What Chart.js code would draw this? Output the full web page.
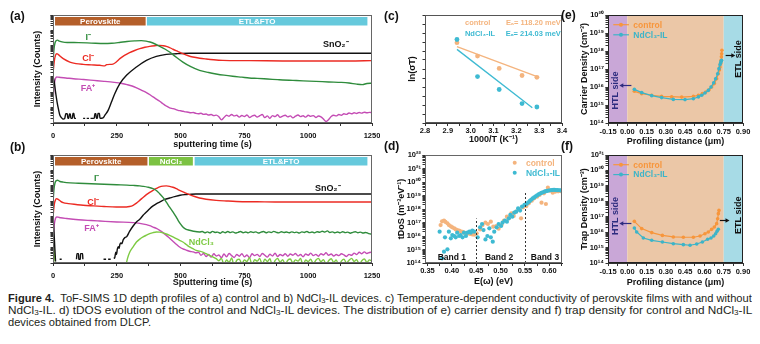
<!DOCTYPE html>
<html lang="en">
<head>
<meta charset="utf-8">
<title>Figure 4</title>
<script src="https://cdn.jsdelivr.net/npm/chart.js@4.4.1/dist/chart.umd.min.js"></script>
<style>
  html, body { margin: 0; padding: 0; background: #fff; }
  body { position: relative; width: 760px; height: 344px; overflow: hidden; font-family: "Liberation Sans", Arial, sans-serif; }
  .panel { position: absolute; }
  .tag { position: absolute; font-weight: bold; font-size: 12px; color: #111; }
  .caption { position: absolute; left: 8px; top: 292px; width: 744px; font-size: 11px; line-height: 12px; color: #231f20; }
  .caption span { display: inline-block; white-space: nowrap; transform-origin: 0 0; }
  .caption sub { font-size: 7.5px; vertical-align: -1px; line-height: 0; }
</style>
</head>
<body>
<div class="panel" style="left:0;top:0;width:380px;height:150px"><canvas id="chartA"></canvas></div>
<div class="panel" style="left:0;top:148px;width:380px;height:142px"><canvas id="chartB"></canvas></div>
<div class="panel" style="left:380px;top:0;width:190px;height:150px"><canvas id="chartC"></canvas></div>
<div class="panel" style="left:380px;top:148px;width:190px;height:142px"><canvas id="chartD"></canvas></div>
<div class="panel" style="left:570px;top:0;width:190px;height:150px"><canvas id="chartE"></canvas></div>
<div class="panel" style="left:570px;top:148px;width:190px;height:142px"><canvas id="chartF"></canvas></div>

<div class="tag" style="left:10px;top:9px">(a)</div>
<div class="tag" style="left:10px;top:140px">(b)</div>
<div class="tag" style="left:384px;top:9px">(c)</div>
<div class="tag" style="left:384px;top:139px">(d)</div>
<div class="tag" style="left:561px;top:8px">(e)</div>
<div class="tag" style="left:561px;top:139px">(f)</div>

<div class="caption">
  <div><span id="cap1"><b>Figure 4.</b>&nbsp; ToF-SIMS 1D depth profiles of a) control and b) NdCl<sub>3</sub>-IL devices. c) Temperature-dependent conductivity of perovskite films with and without</span></div>
  <div><span id="cap2">NdCl<sub>3</sub>-IL. d) tDOS evolution of the control and NdCl<sub>3</sub>-IL devices. The distribution of e) carrier density and f) trap density for control and NdCl<sub>3</sub>-IL</span></div>
  <div><span id="cap3">devices obtained from DLCP.</span></div>
</div>

<script>
// ToF-SIMS depth profiles, [sputtering time (s), log10 counts]
// (a) control device
const iControl = [[0,3.9],[4,4.8],[8,5.2],[13,5.34],[18,5.37],[25,5.3],[40,5.24],[60,5.22],[100,5.21],[150,5.18],[200,5.15],[230,5.17],[260,5.22],[290,5.28],[320,5.32],[346,5.34],[365,5.31],[380,5.25],[400,5.12],[418,4.97],[440,4.78],[457,4.6],[480,4.3],[509,3.95],[540,3.65],[574,3.41],[610,3.27],[639,3.18],[670,3.1],[704,3.03],[740,2.97],[769,2.92],[800,2.89],[840,2.85],[880,2.81],[900,2.79],[940,2.76],[980,2.73],[1030,2.7],[1080,2.66],[1130,2.63],[1160,2.59],[1190,2.52],[1212,2.49],[1230,2.56],[1250,2.58]];
const clControl = [[0,3.2],[5,4.0],[10,4.4],[15,4.49],[20,4.45],[30,4.3],[40,4.17],[66,3.95],[90,3.85],[118,3.8],[150,3.77],[183,3.74],[203,3.7],[210,3.78],[235,3.82],[248,3.95],[262,4.17],[280,4.38],[300,4.56],[320,4.7],[340,4.82],[360,4.91],[379,4.97],[400,5.01],[418,5.03],[432,5.01],[444,4.97],[457,4.89],[470,4.78],[490,4.63],[509,4.49],[530,4.36],[548,4.28],[575,4.2],[600,4.15],[630,4.1],[665,4.06],[720,4.04],[770,4.04],[900,4.02],[1030,4.02],[1160,4.02],[1250,4.04]];
const snoControl = [[0,3.0],[5,2.66],[10,2.01],[16,1.36],[21,0.93],[27,0.5],[34,0.33],[40,0.25],[46,0.3],[50,0.6],[56,0.6],[58,0.3],[62,0.3],[64,0.58],[68,0.58],[70,0.3],[76,0.3],[78,0.62],[82,0.62],[84,0.3],[90,0.3],[91,null],[117,null],[118,0.3],[126,0.3],[127,null],[131,null],[132,0.3],[141,0.3],[142,null],[146,null],[147,0.3],[158,0.3],[162,0.32],[164,0.6],[168,0.6],[170,0.3],[174,0.3],[176,0.62],[182,0.62],[184,0.3],[196,0.33],[203,0.5],[216,0.82],[229,1.36],[242,1.9],[262,2.55],[288,3.09],[327,3.63],[366,4.06],[405,4.32],[444,4.45],[483,4.49],[535,4.52],[1250,4.52]];
const faControl = [[0,1.45],[5,2.5],[10,2.9],[15,2.98],[20,2.97],[30,2.95],[50,2.92],[80,2.87],[120,2.82],[160,2.76],[200,2.7],[240,2.63],[270,2.56],[290,2.49],[310,2.4],[330,2.26],[350,2.1],[366,1.97],[380,1.83],[392,1.69],[405,1.55],[418,1.41],[431,1.25],[444,1.1],[457,0.98],[470,0.93],[480,0.88],[490,0.82],[500,0.79],[510,0.76],
  [520,0.72],[530,0.7],[540,0.66],[550,0.68],[560,0.62],[570,0.6],[580,0.63],[590,0.56],[600,0.58],[610,0.52],[620,0.55],[630,0.48],[640,0.51],[650,0.4],[660,0.2],[670,0.35],[680,0.5],[690,0.44],[700,0.55],[710,0.46],[720,0.5],[730,0.38],[740,0.49],[750,0.42],[760,0.52],[770,0.36],[780,0.45],[790,0.5],[800,0.39],[810,0.47],[820,0.55],[830,0.35],[840,0.46],[850,0.3],[860,0.48],[870,0.41],[880,0.53],[890,0.37],[900,0.45],[910,0.5],[920,0.4],[930,0.46],[940,0.33],[950,0.44],[960,0.52],[970,0.41],[980,0.47],[990,0.38],[1000,0.5],[1010,0.43],[1020,0.48],[1030,0.36],[1040,0.45],[1050,0.4],[1060,0.25],[1070,0.1],[1080,0.22],[1090,0.42],[1100,0.5],[1110,0.46],[1120,0.55],[1130,0.5],[1140,0.6],[1150,0.56],[1160,0.65],[1170,0.6],[1180,0.66],[1190,0.62],[1200,0.68],[1210,0.64],[1220,0.7],[1230,0.66],[1240,0.69],[1250,0.67]];

// (b) NdCl3-IL device
const iNd = [[0,3.9],[4,4.8],[8,5.2],[13,5.34],[18,5.36],[25,5.3],[40,5.24],[53,5.21],[100,5.17],[150,5.14],[200,5.1],[250,5.07],[290,5.05],[314,5.03],[340,5.0],[353,4.97],[370,4.92],[392,4.82],[405,4.7],[418,4.49],[431,4.25],[444,3.95],[457,3.62],[470,3.31],[480,3.05],[490,2.77],[500,2.52],[509,2.33],[520,2.2],[535,2.12],[550,2.06],[574,2.01],
  [585,2.04],[595,1.96],[605,2.02],[615,1.95],[625,2.05],[635,1.98],[645,2.0],[655,1.93],[665,2.03],[675,1.96],[685,2.04],[695,1.97],[705,2.02],[715,1.94],[725,1.99],[735,2.04],[745,1.96],[755,2.01],[765,1.95],[775,2.03],[785,1.98],[795,2.02],[805,1.94],[815,2.0],[825,2.04],[835,1.96],[845,2.02],[855,1.97],[865,2.05],[875,1.99],[885,1.95],[895,2.03],[905,1.98],[915,2.01],[925,1.96],[935,2.02],[945,1.97],[955,2.0],[965,1.94],[975,2.02],[985,1.98],[995,2.04],[1005,1.97],[1015,2.01],[1025,1.95],[1035,2.03],[1045,1.99],[1055,2.06],[1065,2.0],[1075,2.08],[1085,1.98],[1095,2.02],[1105,1.96],[1115,2.01],[1125,1.95],[1135,2.03],[1145,1.97],[1155,2.0],[1165,1.93],[1175,1.99],[1185,2.03],[1195,1.96],[1205,2.0],[1215,1.94],[1225,1.98],[1235,1.92],[1245,1.88],[1250,1.9]];
const clNd = [[0,3.0],[5,3.8],[10,4.1],[15,4.17],[20,4.12],[30,4.0],[40,3.91],[60,3.85],[90,3.79],[118,3.74],[160,3.7],[200,3.66],[248,3.63],[288,3.63],[300,3.66],[314,3.74],[327,3.88],[340,4.06],[353,4.25],[366,4.43],[379,4.58],[392,4.71],[405,4.83],[418,4.93],[431,4.98],[444,5.0],[457,4.97],[470,4.91],[483,4.82],[496,4.71],[515,4.57],[535,4.43],[555,4.31],[574,4.21],[600,4.13],[639,4.06],[680,4.02],[718,3.99],[800,3.97],[900,3.95],[1250,3.95]];
const snoNd = [[0,3.0],[4,2.0],[7,1.0],[10,0.1],[11,null],[25,null],[26,0.24],[34,0.24],[35,null],[90,null],[92,0.24],[94,0.61],[100,0.61],[101,0.24],[107,0.24],[108,0.61],[116,0.61],[117,0.24],[118,null],[196,null],[198,0.24],[208,0.24],[209,null],[214,null],[216,0.24],[226,0.24],[227,null],[236,null],[238,0.3],[242,0.35],[246,0.7],[249,0.55],[252,0.9],[256,1.06],[259,0.95],[262,1.2],[266,1.3],[270,1.25],[275,1.5],[282,1.65],[289,1.71],[300,2.05],[314,2.4],[327,2.66],[341,2.85],[353,3.09],[366,3.3],[379,3.52],[392,3.7],[406,3.85],[418,3.95],[438,4.12],[457,4.21],[476,4.3],[498,4.39],[517,4.43],[535,4.45],[560,4.47],[1250,4.47]];
const faNd = [[0,1.5],[5,2.5],[10,2.9],[15,2.98],[20,2.97],[30,2.93],[53,2.88],[100,2.8],[150,2.75],[183,2.72],[250,2.66],[314,2.62],[340,2.57],[366,2.49],[379,2.42],[392,2.33],[405,2.24],[418,2.12],[431,1.97],[444,1.79],[457,1.6],[470,1.41],[483,1.22],[496,1.04],[509,0.92],[522,0.84],[535,0.76],[550,0.72],
  [560,0.66],[570,0.7],[580,0.5],[590,0.62],[600,0.42],[610,0.55],[620,0.38],[630,0.6],[640,0.45],[650,0.52],[660,0.35],[670,0.58],[680,0.4],[690,0.62],[700,0.48],[710,0.36],[720,0.55],[730,0.44],[740,0.6],[750,0.4],[760,0.52],[770,0.35],[780,0.6],[790,0.48],[800,0.56],[810,0.42],[820,0.62],[830,0.5],[840,0.38],[850,0.57],[860,0.45],[870,0.63],[880,0.42],[890,0.55],[900,0.47],[910,0.6],[920,0.44],[930,0.58],[940,0.5],[950,0.62],[960,0.46],[970,0.55],[980,0.4],[990,0.58],[1000,0.5],[1010,0.64],[1020,0.48],[1030,0.56],[1040,0.44],[1050,0.6],[1060,0.52],[1070,0.66],[1080,0.5],[1090,0.58],[1100,0.45],[1110,0.55],[1120,0.48],[1130,0.6],[1140,0.52],[1150,0.42],[1160,0.56],[1170,0.5],[1180,0.64],[1190,0.55],[1200,0.7],[1210,0.6],[1220,0.72],[1230,0.62],[1240,0.68],[1250,0.7]];
const ndclNd = [[0,1.5],[4,0.8],[8,0.1],[9,null],[280,null],[285,-0.2],[292,0.3],[301,0.71],[314,1.05],[327,1.36],[340,1.55],[353,1.69],[366,1.8],[379,1.9],[392,1.97],[405,2.01],[418,2.0],[431,1.95],[444,1.88],[457,1.79],[470,1.69],[483,1.58],[496,1.47],[509,1.36],[522,1.2],[535,1.04],[548,0.93],[561,0.82],[574,0.77],[587,0.71],[600,0.6],[613,0.5],[626,0.4],[639,0.28],
  [650,0.15],[660,0.3],[670,-0.1],[680,0.2],[690,0.05],[700,0.32],[710,-0.2],[720,0.18],[730,0.25],[740,-0.05],[750,0.2],[760,0.1],[770,0.35],[780,-0.15],[790,0.22],[800,0.12],[810,0.3],[820,-0.1],[830,0.25],[840,0.1],[850,0.28],[860,-0.2],[870,0.15],[880,0.3],[890,0.05],[900,0.22],[910,-0.1],[920,0.18],[930,0.26],[940,0.0],[950,0.2],[960,0.12],[970,0.3],[980,-0.15],[990,0.2],[1000,0.1],[1010,0.25],[1020,-0.05],[1030,0.18],[1040,0.3],[1050,0.08],[1060,0.22],[1070,-0.1],[1080,0.15],[1090,0.28],[1100,0.05],[1110,0.2],[1120,-0.2],[1130,0.12],[1140,0.25],[1150,0.0],[1160,0.18],[1170,0.3],[1180,0.1],[1190,0.22],[1200,-0.1],[1210,0.15],[1220,0.26],[1230,0.05],[1240,0.2],[1250,0.12]];

// layer bars across the top of each profile (s)
const layerNamesA = ['Perovskite', 'ETL&FTO'];
const layerFromA = [8, 368];
const layerToA = [363, 1232];
const layerNamesB = ['Perovskite', 'NdCl₃', 'ETL&FTO'];
const layerFromB = [8, 376, 555];
const layerToB = [370, 548, 1232];

// (c) Arrhenius plot: 1000/T (K^-1) against ln(sigma*T)
const invTemp = [2.94, 3.03, 3.125, 3.225, 3.29];
const lnSigmaControl = [4.46, 3.72, 3.03, 2.64, 2.54];
const lnSigmaNd = [4.64, 2.58, 1.86, 1.08, 0.89];
const fitControl = [[2.94, 4.24], [3.30, 2.53]];
const fitNd = [[2.94, 4.09], [3.27, 0.85]];
const activation = ['118.20', '214.03'];

// (d) tDOS, [E(omega) (eV), log10 tDOS]
const tdosControl = [[0.377,16.81],[0.380,17.09],[0.384,17.14],[0.387,17.04],[0.391,16.94],[0.394,16.81],[0.398,16.72],[0.401,16.64],[0.405,16.57],[0.408,16.49],[0.411,16.44],[0.415,16.40],[0.418,16.35],[0.422,16.30],[0.425,16.25],[0.429,16.22],[0.432,16.20],[0.436,16.17],[0.439,16.15],[0.442,16.12],[0.446,16.10],
  [0.451,16.20],[0.458,16.49],[0.463,16.81],[0.469,16.99],[0.474,16.89],[0.480,17.06],[0.485,16.69],[0.491,16.74],[0.496,16.54],[0.502,16.81],[0.507,17.14],[0.513,17.43],[0.517,17.31],[0.522,17.68],[0.527,17.48],[0.532,17.80],[0.538,17.98],[0.542,17.31],[0.546,18.12],
  [0.553,18.22],[0.558,18.42],[0.564,18.62],[0.569,18.79],[0.575,18.91],[0.580,19.04],[0.584,18.47],[0.589,19.16],[0.593,18.37],[0.597,19.58],[0.601,19.36],[0.607,19.21],[0.612,19.28],[0.618,19.31],[0.623,19.33]];
const tdosNd = [[0.375,16.32],[0.380,14.35],[0.384,14.84],[0.386,15.90],[0.391,15.01],[0.394,16.32],[0.398,15.83],[0.401,16.07],[0.405,16.00],[0.408,15.90],[0.411,16.25],[0.415,16.00],[0.418,16.07],[0.422,15.90],[0.425,16.25],[0.429,16.00],[0.432,16.25],[0.436,16.32],[0.439,16.25],[0.442,16.40],[0.446,16.32],
  [0.453,15.90],[0.458,16.64],[0.462,16.89],[0.465,16.44],[0.469,15.75],[0.473,16.00],[0.477,16.57],[0.480,15.90],[0.484,15.58],[0.487,16.32],[0.492,16.64],[0.496,16.89],[0.501,16.74],[0.504,16.99],[0.509,17.14],[0.513,17.06],[0.517,17.31],[0.520,17.56],[0.524,17.43],[0.528,17.73],[0.532,17.80],[0.536,18.05],[0.540,17.88],[0.544,18.17],[0.549,18.30],
  [0.551,18.33],[0.554,18.40],[0.557,18.50],[0.560,18.60],[0.563,18.70],[0.566,18.78],[0.569,18.86],[0.572,18.94],[0.575,19.01],[0.578,19.08],[0.581,19.14],[0.584,19.19],[0.587,19.24],[0.590,19.28],[0.593,19.32],[0.596,19.35],[0.599,19.37],[0.602,19.39],[0.605,19.40],[0.608,19.41],[0.611,19.41],[0.614,19.40],[0.617,19.40],[0.620,19.39],[0.623,19.38]];
const bandNames = ['Band 1', 'Band 2', 'Band 3'];
const bandCentres = [0.40, 0.497, 0.591];
const bandEdges = [0.45, 0.55];
const bandEdgeTops = [17.3, 19.2];

// (e), (f) DLCP profiles, [profiling distance (um), log10 density]
const carrierControl = [[0.055,15.76],[0.112,15.63],[0.19,15.54],[0.267,15.48],[0.345,15.46],[0.423,15.44],[0.514,15.48],[0.553,15.54],[0.584,15.63],[0.61,15.72],[0.636,15.85],[0.656,16.0],[0.677,16.19],[0.695,16.46],[0.708,16.74],[0.716,16.95],[0.721,17.11],[0.726,17.3],[0.729,17.48],[0.732,17.68],[0.734,17.85],[0.736,18.04]];
const carrierNd = [[0.055,15.87],[0.112,15.69],[0.19,15.52],[0.267,15.41],[0.358,15.31],[0.449,15.3],[0.514,15.35],[0.553,15.45],[0.579,15.54],[0.604,15.67],[0.63,15.81],[0.651,16.0],[0.672,16.24],[0.687,16.46],[0.703,16.74],[0.713,17.02],[0.721,17.24],[0.726,17.34],[0.73,17.42],[0.733,17.48]];
const trapControl = [[0.055,16.7],[0.112,16.23],[0.19,15.97],[0.273,15.79],[0.358,15.69],[0.436,15.67],[0.514,15.67],[0.566,15.75],[0.604,15.9],[0.63,16.01],[0.656,16.18],[0.677,16.33],[0.695,16.55],[0.703,16.87],[0.708,17.2],[0.713,17.41]];
const trapNd = [[0.055,16.27],[0.073,16.01],[0.125,15.62],[0.19,15.47],[0.273,15.36],[0.358,15.25],[0.436,15.19],[0.488,15.15],[0.54,15.23],[0.584,15.36],[0.625,15.54],[0.651,15.62],[0.672,15.75],[0.687,15.9],[0.698,16.05],[0.708,16.18]];
const zoneEdges = [-0.15, 0, 0.75, 0.90];

// tick positions
const arrTicks = [2.8, 2.85, 2.9, 2.95, 3.0, 3.05, 3.1, 3.15, 3.2, 3.25, 3.3, 3.35, 3.4];
const tdosTicks = [0.35, 0.375, 0.4, 0.425, 0.45, 0.475, 0.5, 0.525, 0.55, 0.575, 0.6, 0.625];
const depthTicks = [-0.15, -0.075, 0, 0.075, 0.15, 0.225, 0.3, 0.375, 0.45, 0.525, 0.6, 0.675, 0.75, 0.825, 0.9];

const FONT = '"Liberation Sans", Arial, Helvetica, sans-serif';
const TICK_FONT = { family: FONT, size: 7.5, weight: 'bold' };
const TITLE_FONT = { family: FONT, size: 9, weight: 'bold' };
const LABEL_FONT = 'bold 9px ' + FONT;
const KEY_FONT = 'bold 7.5px ' + FONT;

const GREEN = '#2f8c3c', RED = '#ec2b23', BLACK = '#111111', MAGENTA = '#c44cb4', LIME = '#7dca42';
const PEACH = '#f4b47e', TEAL = '#3ebad2';
const ORANGE = '#f7963c', CYAN = '#3cb4c8', NAVY = '#2d2c7f';
const layerColors = { 'Perovskite': '#b45f2a', 'NdCl₃': '#7cc242', 'ETL&FTO': '#66c9dc' };
const zoneColors = ['#c9a7d7', '#ebc7a7', '#a7dbe6'];

const ex = (v) => 10 ** v;
const toPoints = (pairs, log) => pairs.map(([x, y]) => ({ x, y: y === null ? null : (log ? 10 ** y : y) }));
const SUP = '⁰¹²³⁴⁵⁶⁷⁸⁹';

function powLabel(v) {
  const e = Math.log10(v), r = Math.round(e);
  if (Math.abs(e - r) > 1e-6) return '';
  return '10' + String(r).split('').map(d => SUP[+d]).join('');
}

function logTicks(lo, hi) {
  const out = [];
  for (let e = lo; e < hi; e++) {
    for (let m = 1; m < 10; m++) out.push(m * 10 ** e);
  }
  out.push(10 ** hi);
  return out;
}

function axisX(o) {
  return {
    type: 'linear', min: o.min, max: o.max,
    border: { display: true, color: '#333' },
    grid: { display: true, drawOnChartArea: false, drawTicks: true, tickLength: 3, color: '#333' },
    ticks: { font: TICK_FONT, color: '#111', padding: o.pad, autoSkip: false, maxRotation: 0, stepSize: o.step, callback: o.label },
    afterBuildTicks: (s) => { if (o.ticks) s.ticks = o.ticks.map(v => ({ value: v })); },
    title: { display: true, text: o.title, font: TITLE_FONT, color: '#111', padding: { top: 0, bottom: o.titlePad } },
    afterFit: (s) => { s.height = o.size; s.paddingLeft = 0; s.paddingRight = 0; }
  };
}

function axisY(o) {
  return {
    type: o.log ? 'logarithmic' : 'linear', min: o.min, max: o.max,
    border: { display: true, color: '#333' },
    grid: { display: true, drawOnChartArea: false, drawTicks: true, tickLength: 2.5, color: '#333' },
    ticks: { display: o.label !== undefined, font: TICK_FONT, color: '#111', padding: 1.5, autoSkip: false, stepSize: o.step, callback: o.label },
    afterBuildTicks: (s) => { if (o.ticks) s.ticks = o.ticks.map(v => ({ value: v })); },
    title: { display: true, text: o.title, font: TITLE_FONT, color: '#111', padding: { top: o.titlePad, bottom: 0 } },
    afterFit: (s) => { s.width = o.size; s.paddingTop = 0; s.paddingBottom = 0; }
  };
}

// extra drawing: shaded zones, layer bars, arrows, in-plot keys and labels, frame
function decorate(cfg) {
  return {
    id: 'decor',
    beforeDatasetsDraw(chart) {
      if (!cfg.zones) return;
      const { ctx, chartArea: a, scales: { x } } = chart;
      ctx.save();
      cfg.zones.colors.forEach((c, i) => {
        const x1 = x.getPixelForValue(cfg.zones.edges[i]);
        const x2 = x.getPixelForValue(cfg.zones.edges[i + 1]);
        ctx.fillStyle = c;
        ctx.fillRect(x1, a.top, x2 - x1, a.bottom - a.top);
      });
      ctx.restore();
    },
    afterDatasetsDraw(chart) {
      const { ctx, chartArea: a, scales: { x, y } } = chart;
      ctx.save();
      (cfg.layers || []).forEach(l => {
        const x1 = x.getPixelForValue(l.from), x2 = x.getPixelForValue(l.to);
        ctx.fillStyle = layerColors[l.name];
        ctx.fillRect(x1, a.top + 2, x2 - x1, 8.5);
        ctx.fillStyle = '#fff';
        ctx.font = 'bold 8px ' + FONT;
        ctx.textAlign = 'center';
        ctx.textBaseline = 'middle';
        ctx.fillText(l.name, (x1 + x2) / 2, a.top + 6.6);
      });
      (cfg.dashes || []).forEach(d => {
        const px = Math.round(x.getPixelForValue(d.x)) + 0.5;
        ctx.strokeStyle = '#333';
        ctx.lineWidth = 1;
        ctx.setLineDash([2, 2]);
        ctx.beginPath();
        ctx.moveTo(px, y.getPixelForValue(d.from));
        ctx.lineTo(px, y.getPixelForValue(d.to));
        ctx.stroke();
        ctx.setLineDash([]);
      });
      (cfg.arrows || []).forEach(r => {
        const x1 = x.getPixelForValue(r.from), x2 = x.getPixelForValue(r.to);
        const py = Math.round(y.getPixelForValue(r.y)) + 0.5;
        const dir = Math.sign(x2 - x1);
        ctx.strokeStyle = r.color;
        ctx.fillStyle = r.color;
        ctx.lineWidth = 1.2;
        ctx.beginPath();
        ctx.moveTo(x1, py);
        ctx.lineTo(x2 - dir * 3, py);
        ctx.stroke();
        ctx.beginPath();
        ctx.moveTo(x2, py);
        ctx.lineTo(x2 - dir * 4, py - 2.3);
        ctx.lineTo(x2 - dir * 4, py + 2.3);
        ctx.closePath();
        ctx.fill();
      });
      (cfg.keys || []).forEach(k => {
        const py = y.getPixelForValue(k.y);
        ctx.strokeStyle = k.color;
        ctx.fillStyle = k.color;
        ctx.lineWidth = 1.2;
        if (k.line) {
          ctx.beginPath();
          ctx.moveTo(x.getPixelForValue(k.line[0]), py);
          ctx.lineTo(x.getPixelForValue(k.line[1]), py);
          ctx.stroke();
        }
        ctx.beginPath();
        ctx.arc(x.getPixelForValue(k.dot), py, 2, 0, Math.PI * 2);
        ctx.fill();
        ctx.font = 'bold 8.5px ' + FONT;
        ctx.textAlign = 'left';
        ctx.textBaseline = 'middle';
        ctx.fillText(k.text, x.getPixelForValue(k.tx), py + 0.5);
      });
      (cfg.texts || []).forEach(t => {
        ctx.save();
        ctx.translate(x.getPixelForValue(t.x), y.getPixelForValue(t.y));
        if (t.rot) ctx.rotate(t.rot * Math.PI / 180);
        ctx.font = t.font || LABEL_FONT;
        ctx.fillStyle = t.color || BLACK;
        ctx.textAlign = t.align || 'center';
        ctx.textBaseline = 'middle';
        ctx.fillText(t.text, 0, 0);
        ctx.restore();
      });
      if (cfg.frame) {
        ctx.strokeStyle = cfg.frame;
        ctx.lineWidth = 1;
        ctx.strokeRect(Math.round(a.left) + 0.5, Math.round(a.top) + 0.5,
          Math.round(a.right - a.left) - 1, Math.round(a.bottom - a.top) - 1);
      }
      ctx.restore();
    }
  };
}

function makeChart(id, datasets, scales, padding, extras) {
  return new Chart(document.getElementById(id), {
    type: 'scatter',
    data: { datasets },
    options: {
      responsive: true,
      maintainAspectRatio: false,
      animation: false,
      events: [],
      layout: { padding },
      plugins: { legend: { display: false }, tooltip: { enabled: false } },
      scales
    },
    plugins: [decorate(extras)]
  });
}

function trace(pairs, color) {
  return {
    data: toPoints(pairs, true), showLine: true, borderColor: color, borderWidth: 1.4,
    pointRadius: 0, spanGaps: false, cubicInterpolationMode: 'monotone'
  };
}

const timeLabel = (v) => (v % 250 === 0 ? v : '');
const layerList = (names, from, to) => names.map((name, i) => ({ name, from: from[i], to: to[i] }));

// (a) control
makeChart('chartA',
  [trace(iControl, GREEN), trace(clControl, RED), trace(snoControl, BLACK), trace(faControl, MAGENTA)],
  {
    x: axisX({ min: 0, max: 1250, step: 125, label: timeLabel, pad: 5, title: 'sputtering time (s)', titlePad: 0, size: 27 }),
    y: axisY({ log: true, min: 1, max: 1e7, ticks: logTicks(0, 7), title: 'Intensity (Counts)', titlePad: 2.6, size: 23 })
  },
  { left: 30, right: 8, top: 15, bottom: 0 },
  {
    frame: '#666',
    layers: layerList(layerNamesA, layerFromA, layerToA),
    texts: [
      { x: 138, y: ex(5.57), text: 'I⁻', color: GREEN },
      { x: 138, y: ex(4.19), text: 'Cl⁻', color: RED },
      { x: 137, y: ex(2.25), text: 'FA⁺', color: MAGENTA },
      { x: 1108, y: ex(5.08), text: 'SnO₂⁻', color: BLACK }
    ]
  });

// (b) NdCl3-IL
makeChart('chartB',
  [trace(iNd, GREEN), trace(clNd, RED), trace(snoNd, BLACK), trace(ndclNd, LIME), trace(faNd, MAGENTA)],
  {
    x: axisX({ min: 0, max: 1250, step: 125, label: timeLabel, pad: 5, title: 'Sputtering time (s)', titlePad: 1.6, size: 27 }),
    y: axisY({ log: true, min: 1, max: 1e7, ticks: logTicks(0, 7), title: 'Intensity (Counts)', titlePad: 2.6, size: 23 })
  },
  { left: 30, right: 8, top: 7, bottom: 0 },
  {
    frame: '#666',
    layers: layerList(layerNamesB, layerFromB, layerToB),
    texts: [
      { x: 171, y: ex(5.47), text: 'I⁻', color: GREEN },
      { x: 158, y: ex(3.91), text: 'Cl⁻', color: RED },
      { x: 151, y: ex(2.25), text: 'FA⁺', color: MAGENTA },
      { x: 1077, y: ex(4.86), text: 'SnO₂⁻', color: BLACK },
      { x: 581, y: ex(1.3), text: 'NdCl₃', color: LIME }
    ]
  });

// (c) temperature-dependent conductivity
const arrPoints = (ys) => invTemp.map((x, i) => ({ x, y: ys[i] }));
makeChart('chartC',
  [
    { data: arrPoints(lnSigmaNd), pointRadius: 2.4, pointBackgroundColor: TEAL, pointBorderWidth: 0 },
    { data: arrPoints(lnSigmaControl), pointRadius: 2.4, pointBackgroundColor: PEACH, pointBorderWidth: 0 },
    { data: toPoints(fitNd, false), showLine: true, borderColor: TEAL, borderWidth: 1.3, pointRadius: 0 },
    { data: toPoints(fitControl, false), showLine: true, borderColor: PEACH, borderWidth: 1.3, pointRadius: 0 }
  ],
  {
    x: axisX({ min: 2.8, max: 3.4, ticks: arrTicks, label: (v) => (Math.round(v * 100) % 10 === 0 ? v.toFixed(1) : ''), pad: 0.5, title: '1000/T (K⁻¹)', titlePad: 4.6, size: 27 }),
    y: axisY({ min: 0, max: 6, step: 0.5, title: 'ln(σT)', titlePad: 2.6, size: 20 })
  },
  { left: 25, right: 8, top: 15, bottom: 0 },
  {
    frame: '#555',
    texts: [
      { x: 2.975, y: 5.54, text: 'control', color: PEACH, align: 'left', font: KEY_FONT },
      { x: 3.395, y: 5.54, text: 'Eₐ= ' + activation[0] + ' meV', color: PEACH, align: 'right', font: KEY_FONT },
      { x: 2.975, y: 4.94, text: 'NdCl₃-IL', color: TEAL, align: 'left', font: KEY_FONT },
      { x: 3.395, y: 4.94, text: 'Eₐ= ' + activation[1] + ' meV', color: TEAL, align: 'right', font: KEY_FONT }
    ]
  });

// (d) tDOS
makeChart('chartD',
  [
    { data: toPoints(tdosNd, true), pointRadius: 2.1, pointBackgroundColor: TEAL, pointBorderWidth: 0 },
    { data: toPoints(tdosControl, true), pointRadius: 2.1, pointBackgroundColor: PEACH, pointBorderWidth: 0 }
  ],
  {
    x: axisX({ min: 0.345, max: 0.626, ticks: tdosTicks, label: (v) => (Math.round(v * 1000) % 50 === 0 ? v.toFixed(2) : ''), pad: 0.5, title: 'E(ω) (eV)', titlePad: 2.6, size: 27 }),
    y: axisY({ log: true, min: 1e14, max: 1e22, ticks: logTicks(14, 22), label: powLabel, title: 'tDoS (m⁻³eV⁻¹)', titlePad: 16.6, size: 45 })
  },
  { left: 0, right: 8, top: 7, bottom: 0 },
  {
    frame: '#666',
    dashes: bandEdges.map((e, i) => ({ x: e, from: 1e14, to: ex(bandEdgeTops[i]) })),
    keys: [
      { dot: 0.529, y: ex(21.43), tx: 0.552, text: 'control', color: PEACH },
      { dot: 0.529, y: ex(20.69), tx: 0.552, text: 'NdCl₃-IL', color: TEAL }
    ],
    texts: bandNames.map((b, i) => ({ x: bandCentres[i], y: ex(14.42), text: b, font: 'bold 8.5px ' + FONT }))
  });

// (e), (f) DLCP
function dlcp(id, control, nd, yTitle, yTop, lowerRow, sides) {
  const line = (pairs, color) => ({
    data: toPoints(pairs, true), showLine: true, borderColor: color, borderWidth: 1.2,
    pointRadius: 1.8, pointBackgroundColor: color, pointBorderWidth: 0
  });
  makeChart(id,
    [line(nd, CYAN), line(control, ORANGE)],
    {
      x: axisX({ min: -0.15, max: 0.9, ticks: depthTicks, label: (v) => (Math.round(v * 1000) % 150 === 0 ? v.toFixed(2) : ''), pad: 1.5, title: 'Profiling distance (μm)', titlePad: lowerRow ? 1.6 : 2.9, size: 27 }),
      y: axisY({ log: true, min: 1e14, max: ex(yTop), ticks: logTicks(14, yTop), label: powLabel, title: yTitle, titlePad: 9.6, size: 38 })
    },
    { left: 0, right: 17, top: lowerRow ? 7 : 15, bottom: 0 },
    {
      frame: '#222',
      zones: { edges: zoneEdges, colors: zoneColors },
      keys: [
        { line: [-0.109, 0.013], dot: -0.049, y: ex(sides.key[0]), tx: 0.047, text: 'control', color: ORANGE },
        { line: [-0.109, 0.013], dot: -0.049, y: ex(sides.key[1]), tx: 0.047, text: 'NdCl₃-IL', color: CYAN }
      ],
      arrows: [
        { from: 0.032, to: -0.062, y: ex(sides.htlArrow), color: NAVY },
        { from: sides.etlFrom, to: sides.etlFrom + 0.075, y: ex(sides.etlArrow), color: BLACK }
      ],
      texts: [
        { x: -0.093, y: ex(sides.htl), text: 'HTL side', rot: -90, color: NAVY },
        { x: 0.868, y: ex(sides.etl), text: 'ETL side', rot: -90, color: BLACK }
      ]
    });
}

dlcp('chartE', carrierControl, carrierNd, 'Carrier Density (cm⁻³)', 20, false,
  { key: [19.46, 18.9], htlArrow: 16.12, etlArrow: 17.8, etlFrom: 0.765, htl: 15.8, etl: 17.55 });
dlcp('chartF', trapControl, trapNd, 'Trap Density (cm⁻³)', 21, true,
  { key: [20.37, 19.73], htlArrow: 16.62, etlArrow: 16.77, etlFrom: 0.72, htl: 17.05, etl: 17.1 });

// squeeze the caption rows to the full column width
const capWidth = 744;
const cap1 = document.getElementById('cap1');
const cap2 = document.getElementById('cap2');
const squeeze = capWidth / cap1.offsetWidth;
cap1.style.transform = 'scaleX(' + squeeze + ')';
cap2.style.transform = 'scaleX(' + (capWidth / cap2.offsetWidth) + ')';
document.getElementById('cap3').style.transform = 'scaleX(' + squeeze + ')';
</script>
</body>
</html>
